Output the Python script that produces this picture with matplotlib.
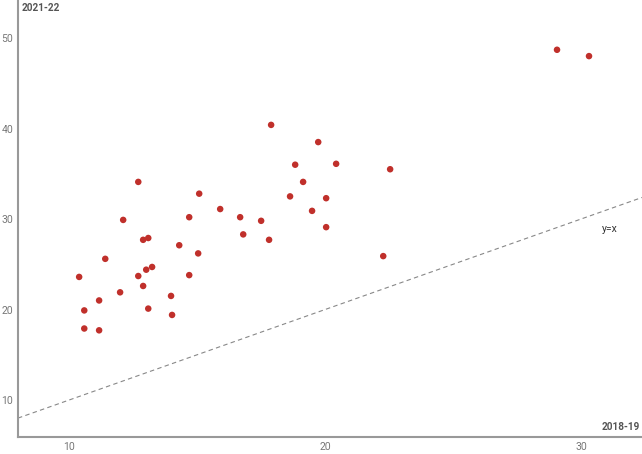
import matplotlib
matplotlib.use("Agg")
import matplotlib.pyplot as plt
import numpy as np

plt.rcParams['font.family'] = ['Roboto', 'DejaVu Sans']

x_2018_19 = [10.39, 10.59, 10.59, 11.17, 11.17, 11.41, 11.99, 12.11, 12.70, 12.70,
             12.89, 12.89, 13.01, 13.09, 13.09, 13.24, 13.98, 14.02, 14.30, 14.69,
             14.69, 15.04, 15.08, 15.90, 16.68, 16.80, 17.50, 17.81, 17.89, 18.63,
             18.83, 19.14, 19.49, 19.73, 20.04, 20.04, 20.43, 22.27, 22.54, 29.06, 30.31]
y_2021_22 = [23.6, 19.9, 17.9, 21.0, 17.7, 25.6, 21.9, 29.9, 34.1, 23.7,
             22.6, 27.7, 24.4, 27.9, 20.1, 24.7, 21.5, 19.4, 27.1, 30.2,
             23.8, 26.2, 32.8, 31.1, 30.2, 28.3, 29.8, 27.7, 40.4, 32.5,
             36.0, 34.1, 30.9, 38.5, 32.3, 29.1, 36.1, 25.9, 35.5, 48.7, 48.0]
x_ticks = [10, 20, 30]
y_ticks = [10, 20, 30, 40, 50]

fig = plt.figure(figsize=(6.42, 4.54), dpi=100)
ax = fig.add_axes([0.028, 0.0374, 0.972, 0.9626])
xmin, xmax = 8.0, 32.38
ymin, ymax = 5.91, 54.2
ax.set_xlim(xmin, xmax)
ax.set_ylim(ymin, ymax)

ax.plot([xmin, xmax], [xmin, xmax], linestyle=(0, (4, 3)), color='#888888', linewidth=0.8, zorder=1)
ax.scatter(x_2018_19, y_2021_22, s=22, color='#c0302b', edgecolors='none', zorder=3)

ax.set_xticks(x_ticks)
ax.set_yticks(y_ticks)
ax.tick_params(length=0, labelsize=7.5, labelcolor='#777777', pad=3.5)
for s in ['top', 'right']:
    ax.spines[s].set_visible(False)
for s in ['left', 'bottom']:
    ax.spines[s].set_color('#999999')
    ax.spines[s].set_linewidth(1.5)

ax.text(0.006, 0.993, '2021-22', transform=ax.transAxes, ha='left', va='top',
        fontsize=7.2, fontweight='bold', color='#555555')
ax.text(0.996, 0.012, '2018-19', transform=ax.transAxes, ha='right', va='bottom',
        fontsize=7.2, fontweight='bold', color='#555555')
ax.text(31.13, 28.95, 'y=x', ha='center', va='center', fontsize=7.5, color='#333333')

fig.savefig('out.png', dpi=100)
